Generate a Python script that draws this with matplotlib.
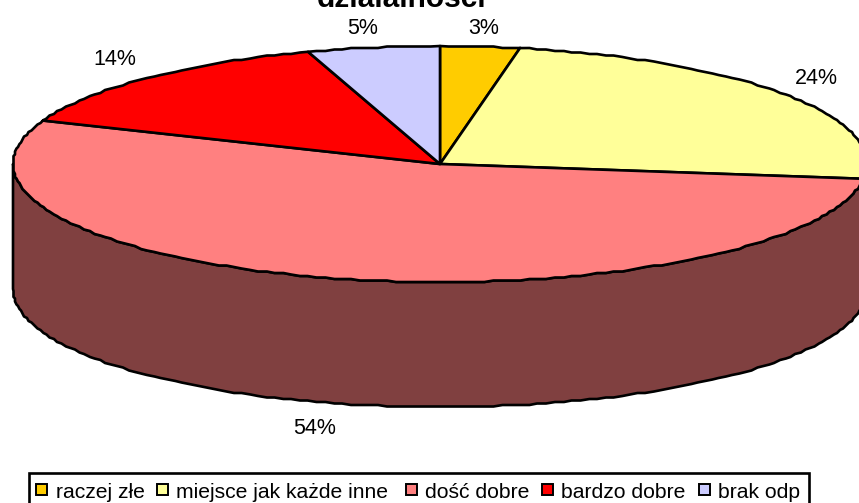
import numpy as np
import matplotlib
matplotlib.use('Agg')
import matplotlib.pyplot as plt
from matplotlib.patches import Rectangle

categories = ['raczej złe', 'miejsce jak każde inne', 'dość dobre', 'bardzo dobre', 'brak odp']
values = [3, 24, 54, 14, 5]
labels = ['3%', '24%', '54%', '14%', '5%']
colors = ['#FFCC00', '#FFFF99', '#FF8080', '#FF0000', '#CCCCFF']
side_color = '#804040'
title = 'działalności'

# pie geometry in image pixels
cx, cy = 440, 164
rx, ry = 427, 118
depth = 125
label_pos = [(484, 28), (816, 78), (315, 428), (115, 59), (363, 28)]
legend_swatch_x = [36, 157, 406, 542, 699]
legend_text_x = [56, 176, 425, 561, 718]

plt.rcParams['font.family'] = ['Liberation Sans', 'DejaVu Sans']


def arc(a0, a1, dy=0):
    # angles clockwise from 12 o'clock, the small rounding gives the jagged edge of the original
    t = np.radians(np.arange(a0, a1, 1.2))
    t = np.append(t, np.radians(a1))
    x = cx + rx * np.sin(t)
    y = cy + dy - ry * np.cos(t)
    x[1:-1] = np.round(x[1:-1] / 1.5) * 1.5
    y[1:-1] = np.round(y[1:-1] / 1.5) * 1.5
    return x, y


fig = plt.figure(figsize=(8.59, 5.03), dpi=100)
ax = fig.add_axes([0, 0, 1, 1])
ax.set_xlim(0, 859)
ax.set_ylim(503, 0)
ax.axis('off')

# side wall
x1, y1 = arc(90, 270, depth)
x2, y2 = arc(90, 270)
ax.fill(np.r_[x1, x2[::-1]], np.r_[y1, y2[::-1]], facecolor=side_color,
        edgecolor='black', linewidth=1.9, joinstyle='round')

# top slices
edges = np.cumsum([0] + values) * 3.6
for i in range(len(values)):
    x, y = arc(edges[i], edges[i + 1])
    ax.fill(np.r_[cx, x], np.r_[cy, y], facecolor=colors[i],
            edgecolor='black', linewidth=1.9, joinstyle='round')

for lab, (lx, ly) in zip(labels, label_pos):
    ax.text(lx, ly, lab, fontsize=15.5, ha='center', va='center', color='black')

ax.text(402, 7, title, fontsize=21.5, fontweight='bold', ha='center', va='baseline')

# legend box, bottom edge falls off the image as in the original
ax.add_patch(Rectangle((28.5, 473), 780.5, 40, facecolor='white', edgecolor='black', linewidth=1.9))
for i, name in enumerate(categories):
    sx = legend_swatch_x[i]
    ax.add_patch(Rectangle((sx + 1, 485), 11, 11, facecolor='#A0A0A0', edgecolor='none'))
    ax.add_patch(Rectangle((sx, 484), 11, 11, facecolor=colors[i], edgecolor='black', linewidth=1.4))
    ax.text(legend_text_x[i], 492, name, fontsize=15.2, ha='left', va='center')

fig.savefig('out.png', dpi=100)
